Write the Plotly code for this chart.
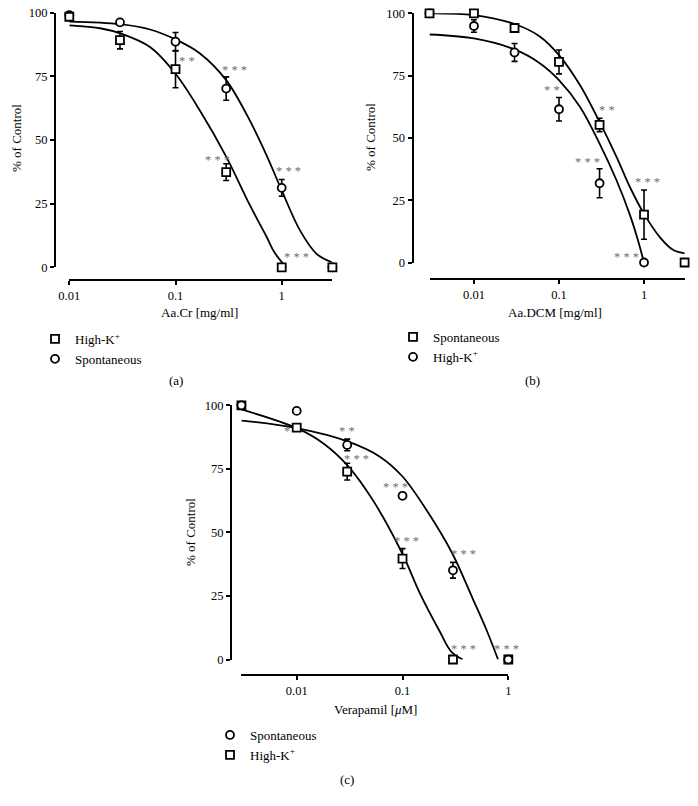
import math
import plotly.graph_objects as go

W, H = 698, 806
SERIF = "Liberation Serif"

# ---------------- Panel (a): Aa.Cr ----------------
a_x = [0.01, 0.03, 0.1, 0.3, 1, 3]
a_highk_y = [98.4, 89.2, 77.8, 37.4, 0, 0]
a_highk_err = [0, 3.4, 7.3, 3.3, 0, 0]
a_spont_y = [99.0, 96.2, 88.6, 70.2, 31.2, 0]
a_spont_err = [0.8, 1.1, 3.6, 4.6, 3.3, 0]
a_fit_highk_x = [0.01, 0.02, 0.03, 0.0575, 0.1, 0.17, 0.3, 0.5, 0.72, 0.85, 1.1]
a_fit_highk_y = [95.0, 93.8, 91.9, 86.5, 76.0, 61.5, 43.5, 24.5, 12.0, 6.0, 0.0]
a_fit_spont_x = [0.01, 0.03, 0.0575, 0.1, 0.17, 0.3, 0.5, 0.72, 1.0, 1.49, 2.14, 2.95]
a_fit_spont_y = [96.5, 95.5, 93.4, 89.5, 84.0, 73.5, 57.7, 44.0, 30.2, 14.4, 5.2, 2.0]
a_star_x = [0.127, 0.363, 0.248, 1.156, 1.38, 3.3]
a_star_y = [81.0, 77.4, 42.3, 37.8, 3.9, 5.5]
a_star_t = ["* *", "* * *", "* * *", "* * *", "* * *", "* * *"]

# ---------------- Panel (b): Aa.DCM ----------------
b_x = [0.003, 0.01, 0.03, 0.1, 0.3, 1, 3]
b_spont_y = [100, 100, 94.1, 80.5, 55.2, 19.2, 0]
b_spont_err = [0, 0, 0.5, 4.8, 2.7, 9.9, 0]
b_highk_x = [0.003, 0.01, 0.03, 0.1, 0.3, 1]
b_highk_y = [100, 94.9, 84.3, 61.5, 31.8, 0]
b_highk_err = [0, 2.5, 3.6, 4.7, 5.8, 0]
b_fit_spont_x = [0.003, 0.01, 0.03, 0.06, 0.1, 0.177, 0.3, 0.476, 0.684, 1.0, 1.54, 2.21, 3.09]
b_fit_spont_y = [100, 99.3, 95.7, 90.6, 83.2, 71.1, 56.4, 42.3, 30.2, 19.5, 10.1, 5.0, 3.6]
b_fit_highk_x = [0.003, 0.01, 0.03, 0.06, 0.1, 0.177, 0.3, 0.476, 0.684, 0.83, 1.0]
b_fit_highk_y = [91.5, 89.9, 85.5, 79.9, 73.2, 62.4, 47.7, 32.9, 19.0, 10.0, 0.0]
b_star_x = [0.082, 0.364, 0.215, 1.11, 0.62, 3.03]
b_star_y = [69.1, 61.3, 40.3, 32.2, 2.3, 6.7]
b_star_t = ["* *", "* *", "* * *", "* * *", "* * *", "*"]

# ---------------- Panel (c): Verapamil ----------------
c_x = [0.003, 0.01, 0.03, 0.1, 0.3, 1]
c_spont_y = [100, 97.8, 84.4, 64.4, 35.1, 0]
c_spont_err = [0, 0.5, 2.3, 0.8, 3.1, 0]
c_highk_y = [100, 91.2, 73.9, 39.7, 0, 0]
c_highk_err = [0, 0.5, 3.3, 3.9, 0, 0]
c_fit_highk_x = [0.003, 0.01, 0.0179, 0.0307, 0.0528, 0.1, 0.146, 0.225, 0.29, 0.37]
c_fit_highk_y = [98.4, 91.0, 85.0, 76.0, 62.5, 41.5, 26.0, 11.0, 3.0, 0.0]
c_fit_spont_x = [0.003, 0.01, 0.0307, 0.061, 0.1, 0.168, 0.294, 0.465, 0.62, 0.8]
c_fit_spont_y = [94.0, 91.0, 85.7, 79.8, 72.0, 58.9, 41.9, 23.6, 11.8, 0.0]
c_star_x = [0.00816, 0.0296, 0.0368, 0.0865, 0.109, 0.379, 0.379, 0.964]
c_star_y = [90.0, 90.0, 78.8, 67.8, 46.5, 41.6, 4.2, 4.2]
c_star_t = ["*", "* *", "* * *", "* * *", "* * *", "* * *", "* * *", "* * *"]

HIGHK = "High-K<sup>+</sup>"
SPONT = "Spontaneous"


def px(p):
    return p / W


def py(p):
    return 1 - p / H


fig = go.Figure()


def add_fit(xs, ys, ax):
    fig.add_trace(go.Scatter(x=xs, y=ys, mode="lines", line=dict(color="black", width=1.8, shape="spline"),
                             xaxis="x" + ax, yaxis="y" + ax, showlegend=False, hoverinfo="skip",
                             cliponaxis=False))


def add_pts(xs, ys, err, symbol, name, ax, legend):
    fig.add_trace(go.Scatter(x=xs, y=ys, mode="markers", name=name,
                             marker=dict(symbol=symbol, size=8, color="white",
                                         line=dict(color="black", width=1.8)),
                             error_y=dict(type="data", array=err, visible=True, color="black",
                                          thickness=1.6, width=3),
                             xaxis="x" + ax, yaxis="y" + ax, legend=legend, cliponaxis=False))


# panel a
add_fit(a_fit_highk_x, a_fit_highk_y, "")
add_fit(a_fit_spont_x, a_fit_spont_y, "")
add_pts(a_x, a_spont_y, a_spont_err, "circle", SPONT, "", "legend")
add_pts(a_x, a_highk_y, a_highk_err, "square", HIGHK, "", "legend")
# panel b
add_fit(b_fit_spont_x, b_fit_spont_y, "2")
add_fit(b_fit_highk_x, b_fit_highk_y, "2")
add_pts(b_highk_x, b_highk_y, b_highk_err, "circle", HIGHK, "2", "legend2")
add_pts(b_x, b_spont_y, b_spont_err, "square", SPONT, "2", "legend2")
# panel c
add_fit(c_fit_highk_x, c_fit_highk_y, "3")
add_fit(c_fit_spont_x, c_fit_spont_y, "3")
add_pts(c_x, c_highk_y, c_highk_err, "square", HIGHK, "3", "legend3")
add_pts(c_x, c_spont_y, c_spont_err, "circle", SPONT, "3", "legend3")

tickfont = dict(family=SERIF, size=12.5, color="black")


def xax(lo, hi, x0, x1, yline):
    return dict(type="log", range=[math.log10(lo), math.log10(hi)], domain=[px(x0), px(x1)],
                anchor="free", position=py(yline), showline=True, linewidth=2, linecolor="black",
                ticks="outside", ticklen=4, tickwidth=1.5, tickcolor="black",
                tickvals=[0.01, 0.1, 1], ticktext=["0.01", "0.1", "1"], automargin=False,
                showgrid=False, zeroline=False, tickfont=tickfont, fixedrange=True)


def yax(y0, y100, xline):
    return dict(range=[0, 100], domain=[py(y0), py(y100)], anchor="free", position=px(xline),
                showline=True, linewidth=2, linecolor="black", ticks="outside", ticklen=4,
                tickwidth=1.5, tickcolor="black", tickvals=[0, 25, 50, 75, 100], automargin=False,
                showgrid=False, zeroline=False, tickfont=tickfont, fixedrange=True)


legfont = dict(family=SERIF, size=13, color="black")


def leg(x, y):
    return dict(x=px(x), y=py(y), xanchor="left", yanchor="top", font=legfont,
                bgcolor="rgba(0,0,0,0)", tracegroupgap=0, traceorder="reversed")


annotations = []


def stars(xs, ys, ts, ax):
    for x, y, t in zip(xs, ys, ts):
        annotations.append(dict(x=math.log10(x), y=y, xref="x" + ax, yref="y" + ax, text=t,
                                showarrow=False, font=dict(family=SERIF, size=12.5, color="#6e6e6e")))


stars(a_star_x, a_star_y, a_star_t, "")
stars(b_star_x, b_star_y, b_star_t, "2")
stars(c_star_x, c_star_y, c_star_t, "3")

titlefont = dict(family=SERIF, size=13, color="black")


def text(x, y, t, angle=0):
    annotations.append(dict(x=px(x), y=py(y), xref="paper", yref="paper", text=t, showarrow=False,
                            textangle=angle, font=titlefont, xanchor="center", yanchor="middle"))


text(199, 313, "Aa.Cr [mg/ml]")
text(17, 138, "% of Control", -90)
text(555, 312, "Aa.DCM [mg/ml]")
text(370, 137, "% of Control", -90)
text(375, 709, "Verapamil [<i>μ</i>M]")
text(190, 532, "% of Control", -90)
text(176, 380, "(a)")
text(532, 380, "(b)")
text(347, 779, "(c)")

fig.update_layout(
    template="none",
    width=W, height=H, autosize=False,
    margin=dict(l=0, r=0, t=0, b=0, pad=0),
    paper_bgcolor="white", plot_bgcolor="rgba(0,0,0,0)",
    xaxis=xax(0.01, 3, 69.3, 332.4, 279.5),
    yaxis=yax(267.3, 12.7, 55),
    xaxis2=xax(0.003, 3, 429.5, 684.6, 278.5),
    yaxis2=yax(262.5, 13.3, 412.5),
    xaxis3=xax(0.003, 1, 241.4, 508.3, 674.5),
    yaxis3=yax(659.5, 405.3, 231),
    legend=leg(35, 324),
    legend2=leg(393, 322),
    legend3=leg(210, 720),
    annotations=annotations,
    showlegend=True,
)

fig.write_html("out.html", config={"displayModeBar": False},
               post_script="document.body.style.margin='0';document.body.style.overflow='hidden';")
